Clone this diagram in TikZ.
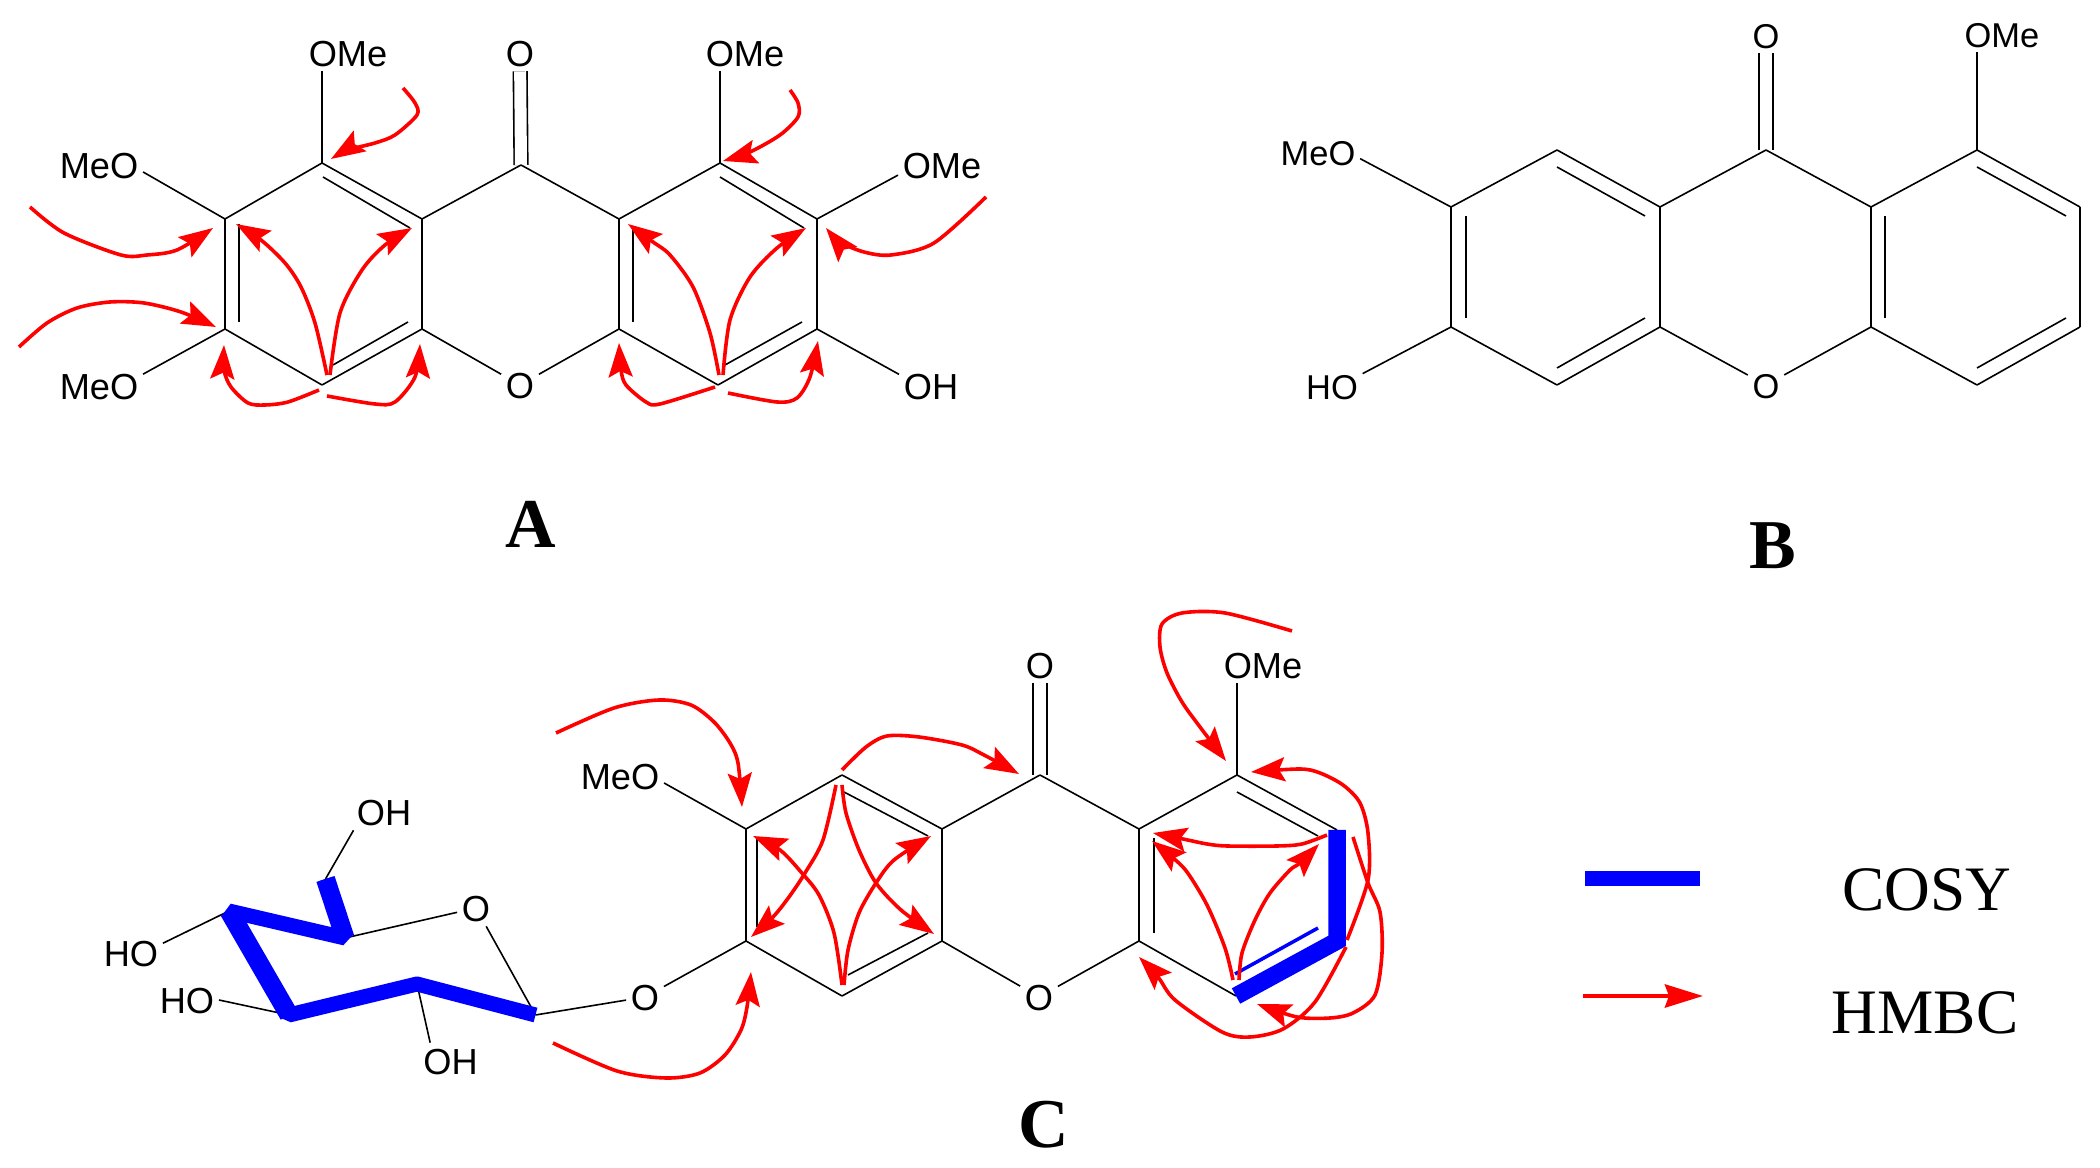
\documentclass[tikz,border=0pt]{standalone}
\usepackage{fontspec}
\setmainfont{Liberation Serif}
\setsansfont{Liberation Sans}
\usetikzlibrary{arrows.meta}
\tikzset{
	lab/.style={font=\sffamily\fontsize{10.3}{12}\selectfont, inner sep=.04cm, text height=.27cm, text depth=0pt},
	labb/.style={lab, font=\sffamily\fontsize{9.8}{12}\selectfont},
	letter/.style={font=\bfseries\fontsize{19.9}{24}\selectfont, inner sep=0pt, text height=.47cm, text depth=0pt},
	legtext/.style={font=\fontsize{18}{22}\selectfont, inner sep=0pt, text height=.43cm, text depth=0pt},
	bond/.style={line width=.016cm},
	co/.style={bond, double, double distance=.12cm},
	cosy/.style={draw=blue, line width=.175cm},
	cosyb/.style={draw=blue, line width=.15cm, line join=bevel},
	cosyd/.style={draw=blue, line width=.19cm},
	cosyc/.style={draw=blue, line width=.035cm},
	hmbc/.style={draw=red, line width=.036cm, line join=round, -{Stealth[length=.34cm,width=.24cm,inset=.06cm]}},
	hmbcl/.style={draw=red, line width=.045cm, -{Stealth[length=.38cm,width=.23cm,inset=.04cm]}}
}
\begin{document}
\begin{tikzpicture}[x=.01cm,y=-.01cm,bond]
	\useasboundingbox (0,0) rectangle (2100,1168);

	% structure A
	\coordinate (AA) at (225,219);
	\coordinate (AB) at (322,163);
	\coordinate (AC) at (422,219);
	\coordinate (AD) at (422,329);
	\coordinate (AE) at (322,385);
	\coordinate (AF) at (225,329);
	\coordinate (AG) at (521,165);
	\coordinate (AH) at (619,219);
	\coordinate (AI) at (720,163);
	\coordinate (AJ) at (817,219);
	\coordinate (AK) at (817,329);
	\coordinate (AL) at (718,385);
	\coordinate (AM) at (619,329);
	\node[lab] (AN) at (348,53) {OMe};
	\node[lab] (AO) at (520,53) {O};
	\node[lab] (AP) at (745,53) {OMe};
	\node[lab] (AQ) at (99,165) {MeO};
	\node[lab] (AR) at (942,165) {OMe};
	\node[lab] (AS) at (99,386) {MeO};
	\node[lab] (AT) at (520,385) {O};
	\node[lab] (AU) at (931,386) {OH};
	\node[letter] (LA) at (530.5,524) {A};

	\coordinate (Aa) at (323,177);
	\coordinate (Ab) at (410,228);
	\coordinate (Ac) at (239,224);
	\coordinate (Ad) at (239,322);
	\coordinate (Ae) at (333,365);
	\coordinate (Af) at (408,322);
	\coordinate (Ag) at (720,177);
	\coordinate (Ah) at (804,228);
	\coordinate (Ai) at (633,228);
	\coordinate (Aj) at (633,322);
	\coordinate (Ak) at (725,365);
	\coordinate (Al) at (802,322);

	\draw[co] (AO)--(AG);
	\draw (AA)--(AB);
	\draw (AB)--(AC);
	\draw (AC)--(AD);
	\draw (AD)--(AE);
	\draw (AE)--(AF);
	\draw (AF)--(AA);
	\draw (AC)--(AG);
	\draw (AG)--(AH);
	\draw (AH)--(AI);
	\draw (AI)--(AJ);
	\draw (AJ)--(AK);
	\draw (AK)--(AL);
	\draw (AL)--(AM);
	\draw (AM)--(AH);
	\draw (AD)--(AT);
	\draw (AT)--(AM);
	\draw (AN.south -| AB)--(AB);
	\draw (AP.south -| AI)--(AI);
	\draw (AQ.-9)--(AA);
	\draw (AS.15)--(AF);
	\draw (AR.193)--(AJ);
	\draw (AU.160)--(AK);
	\draw (Aa)--(Ab);
	\draw (Ac)--(Ad);
	\draw (Ae)--(Af);
	\draw (Ag)--(Ah);
	\draw (Ai)--(Aj);
	\draw (Ak)--(Al);

	% HMBC of A
	\coordinate (HA1s) at (403,88);
	\coordinate (HA1t) at (331,159);
	\coordinate (HA2s) at (790,90);
	\coordinate (HA2t) at (723,161);
	\coordinate (HA3s) at (30,207);
	\coordinate (HA3t) at (213,228);
	\coordinate (HA4s) at (19,347);
	\coordinate (HA4t) at (216,327);
	\coordinate (HA5s) at (327,375);
	\coordinate (HA5t) at (236,224);
	\coordinate (HA6s) at (330,375);
	\coordinate (HA6t) at (412,228);
	\coordinate (HA7s) at (319,390);
	\coordinate (HA7t) at (224,345);
	\coordinate (HA8s) at (327,396);
	\coordinate (HA8t) at (420,344);
	\coordinate (HA9s) at (719,375);
	\coordinate (HA9t) at (628,224);
	\coordinate (HAas) at (723,375);
	\coordinate (HAat) at (806,228);
	\coordinate (HAbs) at (715,387);
	\coordinate (HAbt) at (619,343);
	\coordinate (HAcs) at (728,393);
	\coordinate (HAct) at (818,341);
	\coordinate (HAds) at (986,197);
	\coordinate (HAdt) at (826,228);

	\draw[hmbc] plot[smooth,tension=.5] coordinates {(HA1s) (415,103) (417,115) (395,135) (375,143) (348,150) (HA1t)};
	\draw[hmbc] plot[smooth,tension=.5] coordinates {(HA2s) (798,103) (798,117) (780,135) (750,152) (HA2t)};
	\draw[hmbc] plot[smooth,tension=.5] coordinates {(HA3s) (64,233) (121,255) (147,255) (177,250) (HA3t)};
	\draw[hmbc] plot[smooth,tension=.5] coordinates {(HA4s) (47,323) (77,308) (110,302) (144,303) (181,312) (HA4t)};
	\draw[hmbc] plot[smooth,tension=.5] coordinates {(HA5s) (315,323) (301,287) (285,263) (261,240) (HA5t)};
	\draw[hmbc] plot[smooth,tension=.5] coordinates {(HA6s) (340,313) (362,270) (385,245) (HA6t)};
	\draw[hmbc] plot[smooth,tension=.5] coordinates {(HA7s) (288,402) (265,405) (248,403) (231,387) (224,370) (HA7t)};
	\draw[hmbc] plot[smooth,tension=.5] coordinates {(HA8s) (375,404) (395,402) (415,377) (HA8t)};
	\draw[hmbc] plot[smooth,tension=.5] coordinates {(HA9s) (710,333) (693,287) (670,255) (653,242) (HA9t)};
	\draw[hmbc] plot[smooth,tension=.5] coordinates {(HAas) (730,320) (750,277) (777,248) (HAat)};
	\draw[hmbc] plot[smooth,tension=.5] coordinates {(HAbs) (660,404) (646,402) (626,385) (621,370) (HAbt)};
	\draw[hmbc] plot[smooth,tension=.5] coordinates {(HAcs) (777,402) (797,398) (810,377) (HAct)};
	\draw[hmbc] plot[smooth,tension=.5] coordinates {(HAds) (934,243) (891,255) (864,252) (840,242) (HAdt)};

	% structure B
	\coordinate (BA) at (1451,207);
	\coordinate (BB) at (1557,150);
	\coordinate (BC) at (1660,207);
	\coordinate (BD) at (1660,327);
	\coordinate (BE) at (1557,385);
	\coordinate (BF) at (1451,327);
	\coordinate (BG) at (1766,150);
	\coordinate (BH) at (1871,207);
	\coordinate (BI) at (1977,150);
	\coordinate (BJ) at (2080,207);
	\coordinate (BK) at (2080,327);
	\coordinate (BL) at (1977,385);
	\coordinate (BM) at (1871,327);
	\node[labb] (BN) at (1766,35) {O};
	\node[labb] (BO) at (2002,34) {OMe};
	\node[labb] (BP) at (1318,152) {MeO};
	\node[labb] (BQ) at (1332,386) {HO};
	\node[labb] (BR) at (1766,385) {O};
	\node[letter] (LB) at (1772.5,545) {B};

	\coordinate (Ba) at (1557,167);
	\coordinate (Bb) at (1645,216);
	\coordinate (Bc) at (1466,216);
	\coordinate (Bd) at (1466,318);
	\coordinate (Be) at (1557,368);
	\coordinate (Bf) at (1645,318);
	\coordinate (Bg) at (1885,216);
	\coordinate (Bh) at (1885,318);
	\coordinate (Bi) at (1977,167);
	\coordinate (Bj) at (2066,216);
	\coordinate (Bk) at (2066,318);
	\coordinate (Bl) at (1977,368);

	\draw[co] (BN)--(BG);
	\draw (BA)--(BB);
	\draw (BB)--(BC);
	\draw (BC)--(BD);
	\draw (BD)--(BE);
	\draw (BE)--(BF);
	\draw (BF)--(BA);
	\draw (BC)--(BG);
	\draw (BG)--(BH);
	\draw (BH)--(BI);
	\draw (BI)--(BJ);
	\draw (BJ)--(BK);
	\draw (BK)--(BL);
	\draw (BL)--(BM);
	\draw (BM)--(BH);
	\draw (BD)--(BR);
	\draw (BR)--(BM);
	\draw (BO.south -| BI)--(BI);
	\draw (BP.-9)--(BA);
	\draw (BQ.22)--(BF);
	\draw (Ba)--(Bb);
	\draw (Bc)--(Bd);
	\draw (Be)--(Bf);
	\draw (Bg)--(Bh);
	\draw (Bi)--(Bj);
	\draw (Bk)--(Bl);

	% structure C
	\coordinate (CA) at (746,829);
	\coordinate (CB) at (842,775);
	\coordinate (CC) at (942,829);
	\coordinate (CD) at (942,941);
	\coordinate (CE) at (842,996);
	\coordinate (CF) at (746,941);
	\coordinate (CG) at (1040,775);
	\coordinate (CH) at (1139,829);
	\coordinate (CI) at (1237,775);
	\coordinate (CJ) at (1337,830);
	\coordinate (CK) at (1337,941);
	\coordinate (CL) at (1236,996);
	\coordinate (CM) at (1139,941);
	\node[lab] (CN) at (1040,665) {O};
	\node[lab] (CO) at (1263,665) {OMe};
	\node[lab] (CP) at (620,776) {MeO};
	\node[lab] (CQ) at (645,997) {O};
	\node[lab] (CR) at (1039,997) {O};
	\node[letter] (LC) at (1043.5,1124) {C};

	\coordinate (Ca) at (844,792);
	\coordinate (Cb) at (928,836);
	\coordinate (Cc) at (757,838);
	\coordinate (Cd) at (757,927);
	\coordinate (Ce) at (848,975);
	\coordinate (Cf) at (928,933);
	\coordinate (Cg) at (1237,792);
	\coordinate (Ch) at (1318,836);
	\coordinate (Ci) at (1154,838);
	\coordinate (Cj) at (1154,933);
	\coordinate (Ck) at (1235,974);
	\coordinate (Cl) at (1318,928);

	% sugar
	\coordinate (SA) at (325.5,879);
	\coordinate (SB) at (345,938);
	\coordinate (SC) at (229,911);
	\coordinate (SD) at (289,1015);
	\coordinate (SE) at (417,984);
	\coordinate (SF) at (535.5,1015);
	\node[lab] (SG) at (476,908) {O};
	\node[lab] (SH) at (384,812) {OH};
	\node[lab] (SI) at (131,953) {HO};
	\node[lab] (SJ) at (187,1000) {HO};
	\node[lab] (SK) at (450.5,1061) {OH};

	\draw[co] (CN)--(CG);
	\draw (CA)--(CB);
	\draw (CB)--(CC);
	\draw (CC)--(CD);
	\draw (CD)--(CE);
	\draw (CE)--(CF);
	\draw (CF)--(CA);
	\draw (CC)--(CG);
	\draw (CG)--(CH);
	\draw (CH)--(CI);
	\draw (CI)--(CJ);
	\draw (CL)--(CM);
	\draw (CM)--(CH);
	\draw (CD)--(CR);
	\draw (CR)--(CM);
	\draw (CO.south -| CI)--(CI);
	\draw (CP.-9)--(CA);
	\draw (CQ)--(CF);
	\draw (CQ)--(SF);
	\draw (Ca)--(Cb);
	\draw (Cc)--(Cd);
	\draw (Ce)--(Cf);
	\draw (Cg)--(Ch);
	\draw (Ci)--(Cj);
	\draw (SG)--(SB);
	\draw (SG)--(SF);
	\draw (SH.211)--(SA);
	\draw (SI.17)--(SC);
	\draw (SJ.east)--(SD);
	\draw (SK.138)--(SE);

	% COSY
	\draw[cosy] (CJ)--(CK)--(CL);
	\draw[cosyc] (Ck)--(Cl);
	\draw[cosyb] (SA)--(SB)--(SC)--(SD)--(SE)--(SF);
	\draw[cosyd] (SA)--(SB);
	\draw[cosyd] (SC)--(SD);

	% HMBC of C
	\coordinate (HC1s) at (556,733);
	\coordinate (HC1t) at (742,807);
	\coordinate (HC2s) at (553,1043);
	\coordinate (HC2t) at (751,972);
	\coordinate (HC3s) at (842,770);
	\coordinate (HC3t) at (1019,774);
	\coordinate (HC4s) at (836,785);
	\coordinate (HC4t) at (751,937);
	\coordinate (HC5s) at (842,785);
	\coordinate (HC5t) at (934,934);
	\coordinate (HC6s) at (842,985);
	\coordinate (HC6t) at (753,836);
	\coordinate (HC7s) at (844,985);
	\coordinate (HC7t) at (931,836);
	\coordinate (HC8s) at (1292,631);
	\coordinate (HC8t) at (1226,761);
	\coordinate (HC9s) at (1347,940);
	\coordinate (HC9t) at (1251,772);
	\coordinate (HCas) at (1353,837);
	\coordinate (HCat) at (1257,1004);
	\coordinate (HCbs) at (1346,947);
	\coordinate (HCbt) at (1139,957);
	\coordinate (HCcs) at (1327,835);
	\coordinate (HCct) at (1153,833);
	\coordinate (HCds) at (1233,980);
	\coordinate (HCdt) at (1152,841);
	\coordinate (HCes) at (1239,980);
	\coordinate (HCet) at (1319,844);

	\draw[hmbc] plot[smooth,tension=.5] coordinates {(HC1s) (614,708) (659,700) (691,705) (714,722) (730,743) (738,763) (HC1t)};
	\draw[hmbc] plot[smooth,tension=.5] coordinates {(HC2s) (617,1071) (666,1078) (700,1073) (725,1055) (741,1030) (747,1007) (HC2t)};
	\draw[hmbc] plot[smooth,tension=.5] coordinates {(HC3s) (866,747) (887,736) (919,737) (962,745) (984,755) (HC3t)};
	\draw[hmbc] plot[smooth,tension=.5] coordinates {(HC4s) (823,840) (805,873) (789,897) (773,917) (HC4t)};
	\draw[hmbc] plot[smooth,tension=.5] coordinates {(HC5s) (846,813) (859,850) (876,883) (901,910) (HC5t)};
	\draw[hmbc] plot[smooth,tension=.5] coordinates {(HC6s) (834,933) (819,895) (801,872) (780,850) (HC6t)};
	\draw[hmbc] plot[smooth,tension=.5] coordinates {(HC7s) (848,950) (859,913) (876,883) (894,860) (HC7t)};
	\draw[hmbc] plot[smooth,tension=.5] coordinates {(HC8s) (1225,613) (1182,613) (1162,624) (1160,647) (1167,673) (1182,702) (1200,727) (HC8t)};
	\draw[hmbc] plot[smooth,tension=.5] coordinates {(HC9s) (1368,880) (1368,833) (1360,803) (1343,785) (1320,773) (1300,769) (HC9t)};
	\draw[hmbc] plot[smooth,tension=.5] coordinates {(HCas) (1368,883) (1380,912) (1382,953) (1375,995) (1353,1013) (1330,1018) (1297,1017) (HCat)};
	\draw[hmbc] plot[smooth,tension=.5] coordinates {(HCbs) (1315,1002) (1283,1029) (1250,1037) (1222,1032) (1175,1000) (1158,977) (HCbt)};
	\draw[hmbc] plot[smooth,tension=.5] coordinates {(HCcs) (1302,844) (1277,846) (1227,846) (1207,844) (1183,839) (HCct)};
	\draw[hmbc] plot[smooth,tension=.5] coordinates {(HCds) (1225,948) (1207,905) (1187,872) (1172,857) (HCdt)};
	\draw[hmbc] plot[smooth,tension=.5] coordinates {(HCes) (1242,953) (1255,920) (1270,893) (1290,870) (1300,863) (HCet)};

	% legend
	\coordinate (GA) at (1585,878.5);
	\coordinate (GB) at (1700,878.5);
	\coordinate (GC) at (1583,996);
	\coordinate (GD) at (1703,996);
	\node[legtext] (GE) at (1927,889) {COSY};
	\node[legtext] (GF) at (1925,1011.5) {HMBC};
	\draw[draw=blue, line width=.15cm] (GA)--(GB);
	\draw[hmbcl] (GC)--(GD);
\end{tikzpicture}
\end{document}
